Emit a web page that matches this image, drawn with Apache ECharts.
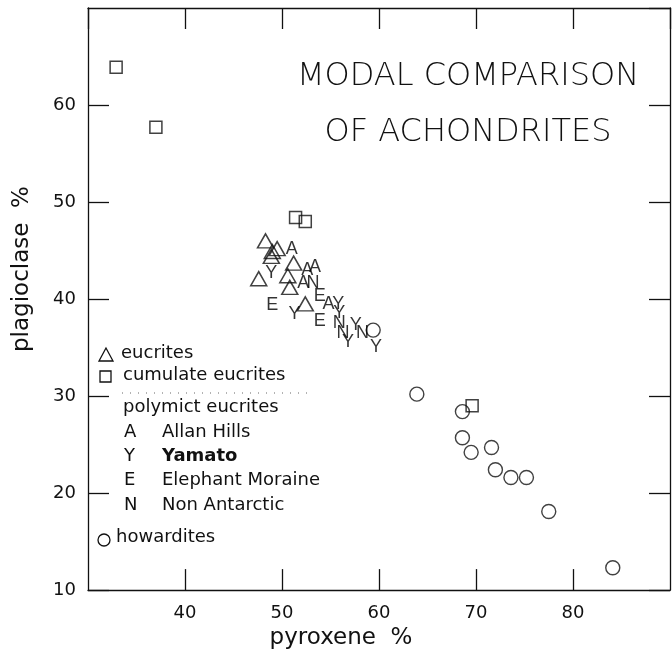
<!DOCTYPE html>
<html>
<head>
<meta charset="utf-8">
<script src="https://cdn.jsdelivr.net/npm/echarts@6/dist/echarts.min.js"></script>
<style>
  html, body { margin: 0; padding: 0; background: #fff; }
  #chart { width: 672px; height: 655px; }
</style>
</head>
<body>
<div id="chart"></div>
<script>
// pyroxene % (x) vs plagioclase % (y)
var eucrites = [[48.3, 46.0], [49.5, 45.2], [49.0, 44.9], [48.9, 44.4], [51.2, 43.7],
  [47.6, 42.1], [50.6, 42.4], [50.8, 41.2], [52.4, 39.5]];
var cumulateEucrites = [[32.9, 63.9], [37.0, 57.7], [51.4, 48.4], [52.4, 48.0], [69.6, 29.0]];
var howardites = [[59.4, 36.8], [63.9, 30.2], [68.6, 28.4], [68.6, 25.7], [69.5, 24.2],
  [71.6, 24.7], [72.0, 22.4], [73.6, 21.6], [75.2, 21.6], [77.5, 18.1], [84.1, 12.3]];

// polymict eucrites, one letter per locality
var allanHills = [[51.0, 45.2], [52.6, 43.0], [53.4, 43.3], [52.2, 41.7], [54.8, 39.5]];
var yamato = [[48.9, 42.7], [51.3, 38.5], [55.8, 39.5], [55.9, 38.6], [56.8, 35.6],
  [57.6, 37.3], [59.7, 35.1]];
var elephantMoraine = [[49.0, 39.4], [53.9, 40.3], [53.9, 37.7]];
var nonAntarctic = [[53.2, 41.7], [55.9, 37.5], [56.3, 36.5], [58.3, 36.5]];

var polymict = [
  { letter: 'A', name: 'Allan Hills', data: allanHills },
  { letter: 'Y', name: 'Yamato', data: yamato },
  { letter: 'E', name: 'Elephant Moraine', data: elephantMoraine },
  { letter: 'N', name: 'Non Antarctic', data: nonAntarctic }
];

var ink = '#111';
var labelFont = 'DejaVu Sans';

var chart = echarts.init(document.getElementById('chart'), null, { renderer: 'canvas' });

function frameAxis(extra) {
  var base = {
    axisLine: { show: true, lineStyle: { color: ink, width: 1.3 } },
    axisTick: { show: true, inside: true, length: 21, lineStyle: { color: ink, width: 1.3 } },
    splitLine: { show: false }
  };
  return Object.assign(base, extra);
}

var hollow = 'rgba(0,0,0,0)';

var series = [
  {
    name: 'eucrites', type: 'scatter', data: eucrites,
    symbol: 'triangle', symbolSize: [16, 14],
    itemStyle: { color: hollow, borderColor: ink, borderWidth: 1.5 }
  },
  {
    name: 'cumulate eucrites', type: 'scatter', data: cumulateEucrites,
    symbol: 'rect', symbolSize: 12,
    itemStyle: { color: hollow, borderColor: ink, borderWidth: 1.5 }
  },
  {
    name: 'howardites', type: 'scatter', data: howardites,
    symbol: 'circle', symbolSize: 14,
    itemStyle: { color: hollow, borderColor: ink, borderWidth: 1.4 }
  }
];

polymict.forEach(function(p) {
  series.push({
    name: p.name, type: 'scatter', data: p.data,
    symbol: 'circle', symbolSize: 1,
    itemStyle: { color: hollow },
    label: {
      show: true, position: 'inside', formatter: p.letter,
      color: '#000', fontSize: 18, fontFamily: 'Liberation Sans',
      textBorderWidth: 0, textBorderColor: 'transparent'
    },
    labelLayout: { hideOverlap: false }
  });
});

// hand-drawn style key inside the plot
var keyText = { fill: ink, fontSize: 18, fontFamily: labelFont };
function keyLine(x, y, text, bold) {
  return {
    type: 'text', left: x, top: y - 11,
    style: Object.assign({}, keyText, { text: text, fontWeight: bold ? 'bold' : 'normal' })
  };
}
var graphic = [
  { type: 'polygon', shape: { points: [[106, 348], [99, 361], [113, 361]] },
    style: { fill: null, stroke: ink, lineWidth: 1.3 } },
  keyLine(121, 355, 'eucrites'),
  { type: 'rect', shape: { x: 100, y: 371, width: 11, height: 11 },
    style: { fill: null, stroke: ink, lineWidth: 1.3 } },
  keyLine(123, 377, 'cumulate eucrites'),
  { type: 'line', shape: { x1: 122, y1: 393, x2: 310, y2: 393 },
    style: { stroke: '#666', lineWidth: 1, lineDash: [1, 7] } },
  keyLine(123, 409, 'polymict eucrites'),
  { type: 'circle', shape: { cx: 104, cy: 540, r: 6 },
    style: { fill: null, stroke: ink, lineWidth: 1.3 } },
  keyLine(116, 539, 'howardites')
];
polymict.forEach(function(p, i) {
  var y = 434 + i * 24.3;
  graphic.push(keyLine(124, y, p.letter));
  graphic.push(keyLine(162, y, p.name, p.letter === 'Y'));
});

chart.setOption({
  animation: false,
  backgroundColor: '#fff',
  title: {
    text: 'MODAL COMPARISON\nOF ACHONDRITES',
    left: 463, top: 44, textAlign: 'center',
    textStyle: {
      color: ink, fontSize: 32, fontWeight: 200, fontFamily: 'DejaVu Sans',
      lineHeight: 56, align: 'center'
    }
  },
  grid: { left: 88, right: 2, top: 8, bottom: 62 },
  xAxis: [
    frameAxis({
      type: 'value', min: 30, max: 90, interval: 10, position: 'bottom',
      name: 'pyroxene  %', nameLocation: 'middle', nameGap: 36,
      nameTextStyle: { color: ink, fontSize: 23, fontFamily: labelFont, padding: [0, 76, 0, 0] },
      axisLabel: {
        color: ink, fontSize: 18, fontFamily: labelFont, margin: 14,
        showMinLabel: false, showMaxLabel: false
      }
    }),
    frameAxis({
      type: 'value', min: 30, max: 90, interval: 10, position: 'top',
      axisLabel: { show: false }
    })
  ],
  yAxis: [
    frameAxis({
      type: 'value', min: 10, max: 70, interval: 10, position: 'left',
      name: 'plagioclase  %', nameLocation: 'middle', nameGap: 54,
      nameTextStyle: { color: ink, fontSize: 23, fontFamily: labelFont, padding: [0, 0, 0, 60] },
      axisLabel: {
        color: ink, fontSize: 18, fontFamily: labelFont, margin: 12,
        showMaxLabel: false
      }
    }),
    frameAxis({
      type: 'value', min: 10, max: 70, interval: 10, position: 'right',
      axisLabel: { show: false }
    })
  ],
  series: series,
  graphic: graphic
});
</script>
</body>
</html>
